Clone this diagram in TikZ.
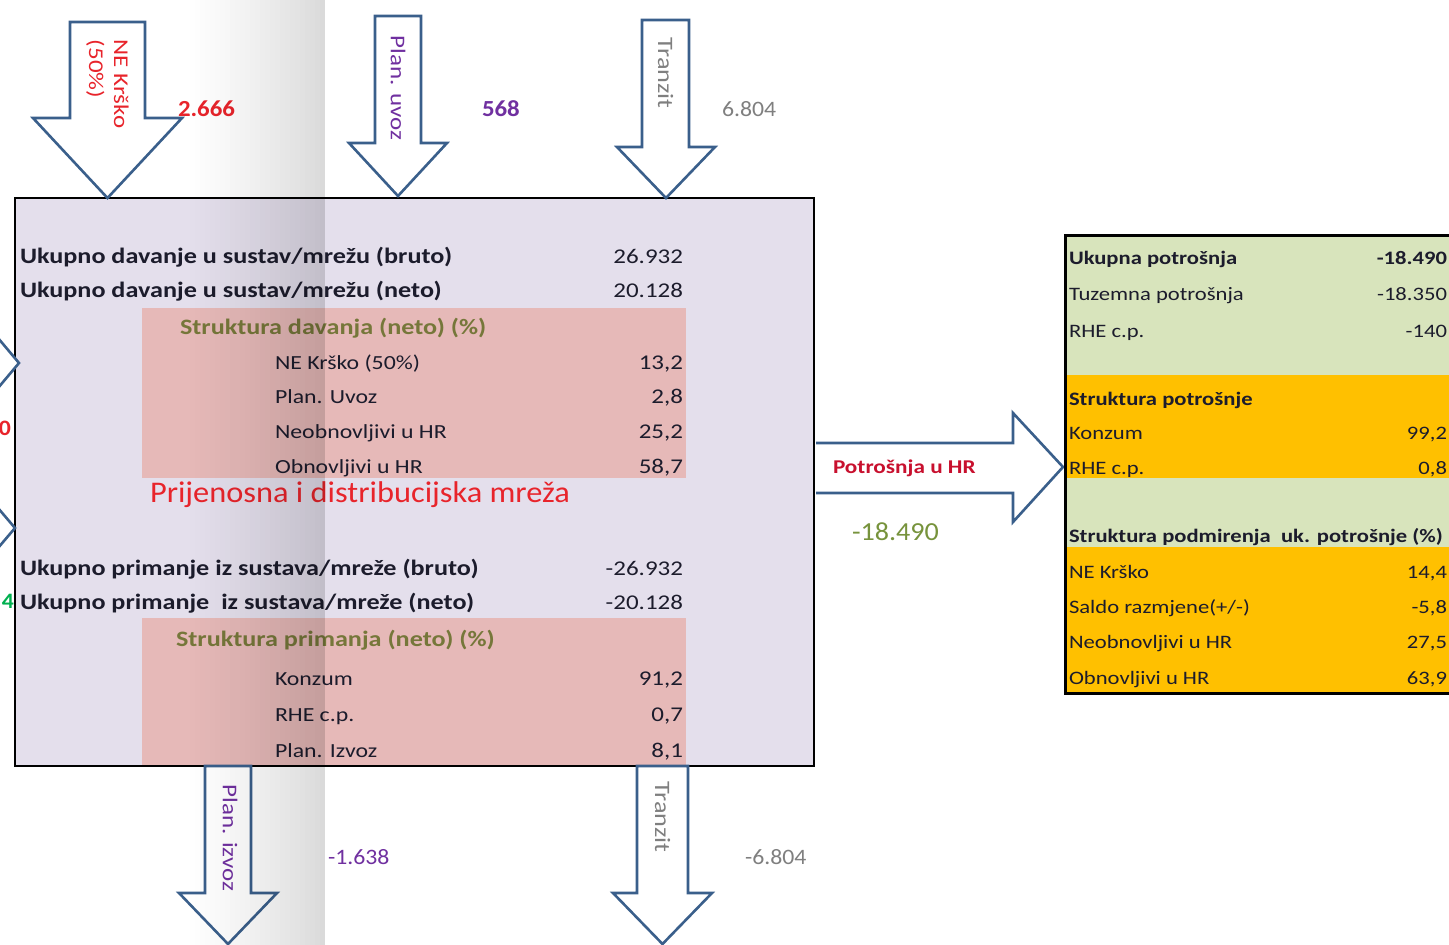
\documentclass[tikz,border=0pt]{standalone}
\usepackage{fontspec}
\setmainfont{Carlito}[FakeStretch=1.08]
\newfontfamily\wide{Carlito}[FakeStretch=1.19]
\definecolor{arrowblue}{HTML}{3A5F8B}
\definecolor{boxfill}{HTML}{E4DFEC}
\definecolor{pinkfill}{HTML}{E6B9B8}
\definecolor{olivetxt}{HTML}{76773A}
\definecolor{boxtext}{HTML}{1C1C2C}
\definecolor{redtxt}{HTML}{E8242B}
\definecolor{darkred}{HTML}{C8102E}
\definecolor{purpletxt}{HTML}{7030A0}
\definecolor{graytxt}{HTML}{7F7F7F}
\definecolor{greentxt}{HTML}{77933C}
\definecolor{brightgreen}{HTML}{00B050}
\definecolor{tgreen}{HTML}{D8E4BC}
\definecolor{torange}{HTML}{FFC000}
\tikzset{
  flowarrow/.style={draw=arrowblue, line width=2.6pt, fill=white, line join=miter},
  bt/.style={anchor=base west, font=\wide\fontsize{22}{26}\selectfont\bfseries, text=boxtext},
  rt/.style={anchor=base west, font=\wide\fontsize{20}{24}\selectfont, text=boxtext},
  val/.style={anchor=base east, font=\wide\fontsize{21}{25}\selectfont, text=boxtext},
  ot/.style={anchor=base west, font=\wide\fontsize{22}{25}\selectfont\bfseries, text=olivetxt},
  tb/.style={anchor=base west, font=\wide\fontsize{19}{23}\selectfont\bfseries, text=boxtext},
  tr/.style={anchor=base west, font=\wide\fontsize{19}{23}\selectfont, text=boxtext},
  tvb/.style={anchor=base east, font=\wide\fontsize{19}{23}\selectfont\bfseries, text=boxtext},
  tv/.style={anchor=base east, font=\wide\fontsize{19}{23}\selectfont, text=boxtext},
  rotlbl/.style={rotate=-90, font=\wide\fontsize{21}{25}\selectfont, align=left},
  numlbl/.style={anchor=base west, font=\fontsize{22}{26}\selectfont}
}
\begin{document}
\begin{tikzpicture}[x=1pt,y=-1pt, every node/.style={inner sep=0pt, outer sep=0pt}]
\useasboundingbox (0,0) rectangle (1449,945);
\clip (0,0) rectangle (1449,945);
\fill[white] (0,0) rectangle (1449,945);

% main box
\coordinate (boxNW) at (15,198);
\coordinate (boxSE) at (814,766);
\fill[boxfill] (boxNW) rectangle (boxSE);
\fill[pinkfill] (142,308) rectangle (686,478);
\fill[pinkfill] (142,618) rectangle (686,766);
\draw[line width=2.8pt] (boxNW) rectangle (boxSE);

% left partial arrows
\draw[flowarrow] (-2,338) -- (19,363) -- (-2,388);
\draw[flowarrow] (-2,508) -- (15,528) -- (-2,548);
\node[anchor=east, font=\fontsize{22}{26}\selectfont\bfseries, text=redtxt] (cut0) at (11,428) {0};
\node[anchor=east, font=\fontsize{22}{26}\selectfont\bfseries, text=brightgreen] (cut4) at (14,601) {4};

% top arrows
\draw[flowarrow] (70,22) -- (145,22) -- (145,118) -- (182,118) -- (107.5,198) -- (33,118) -- (70,118) -- cycle;
\draw[flowarrow] (375,16) -- (421,16) -- (421,143) -- (447,143) -- (398,196) -- (349,143) -- (375,143) -- cycle;
\draw[flowarrow] (642,20) -- (689,20) -- (689,147) -- (715,147) -- (666,198) -- (617,147) -- (642,147) -- cycle;

% bottom arrows
\draw[flowarrow] (205,766) -- (251,766) -- (251,893) -- (277,893) -- (228,944) -- (179,893) -- (205,893) -- cycle;
\draw[flowarrow] (637,766) -- (688,766) -- (688,893) -- (712,893) -- (662.5,944) -- (613,893) -- (637,893) -- cycle;

% right arrow
\draw[flowarrow] (816,443) -- (1013,443) -- (1013,413) -- (1063,467) -- (1013,522) -- (1013,493) -- (816,493);

% arrow labels
\node[rotlbl, text=redtxt] (lblNE) at (107.5,84) {NE Krško\\(50\%)};
\node[rotlbl, text=purpletxt] (lblPU) at (398,88) {Plan. uvoz};
\node[rotlbl, text=graytxt, font=\wide\fontsize{22}{25}\selectfont] (lblTR1) at (665.5,73) {Tranzit};
\node[rotlbl, text=purpletxt] (lblPI) at (230,838) {Plan. izvoz};
\node[rotlbl, text=graytxt, font=\wide\fontsize{22}{25}\selectfont] (lblTR2) at (662.5,817) {Tranzit};

\node[numlbl, text=redtxt, font=\fontsize{23}{26}\selectfont\bfseries] (n1) at (178,116) {2.666};
\node[numlbl, text=purpletxt, font=\fontsize{23}{26}\selectfont\bfseries] (n2) at (482,116) {568};
\node[numlbl, text=graytxt] (n3) at (722,116) {6.804};
\node[numlbl, text=purpletxt] (n4) at (328,864) {-1.638};
\node[numlbl, text=graytxt] (n5) at (745,864) {-6.804};

\node[anchor=base west, font=\wide\fontsize{19.5}{24}\selectfont\bfseries, text=darkred] (potr) at (833,473) {Potrošnja u HR};
\node[anchor=base west, font=\fontsize{26}{30}\selectfont, text=greentxt] (potrv) at (852,540) {-18.490};

% box texts
\node[bt] (r1) at (20,263) {Ukupno davanje u sustav/mrežu (bruto)};
\node[val] (v1) at (683,263) {26.932};
\node[bt] (r2) at (20,297) {Ukupno davanje u sustav/mrežu (neto)};
\node[val] (v2) at (683,297) {20.128};
\node[ot] (r3) at (180,334) {Struktura davanja (neto) (\%)};
\node[rt] (r4) at (275,369) {NE Krško (50\%)};
\node[val] (v4) at (683,369) {13,2};
\node[rt] (r5) at (275,403) {Plan. Uvoz};
\node[val] (v5) at (683,403) {2,8};
\node[rt] (r6) at (275,438) {Neobnovljivi u HR};
\node[val] (v6) at (683,438) {25,2};
\node[rt] (r7) at (275,473) {Obnovljivi u HR};
\node[val] (v7) at (683,473) {58,7};
\node[anchor=base west, font=\fontsize{30}{34}\selectfont, text=redtxt] (title) at (150,502) {Prijenosna i distribucijska mreža};

\node[bt] (p1) at (20,575) {Ukupno primanje iz sustava/mreže (bruto)};
\node[val] (pv1) at (683,575) {-26.932};
\node[bt] (p2) at (20,609) {Ukupno primanje\ \ iz sustava/mreže (neto)};
\node[val] (pv2) at (683,609) {-20.128};
\node[ot] (p3) at (176,646) {Struktura primanja (neto) (\%)};
\node[rt] (p4) at (275,685) {Konzum};
\node[val] (pv4) at (683,685) {91,2};
\node[rt] (p5) at (275,721) {RHE c.p.};
\node[val] (pv5) at (683,721) {0,7};
\node[rt] (p6) at (275,757) {Plan. Izvoz};
\node[val] (pv6) at (683,757) {8,1};

% right table
\fill[tgreen] (1065,235) rectangle (1460,375);
\fill[torange] (1065,375) rectangle (1460,478);
\fill[tgreen] (1065,478) rectangle (1460,547);
\fill[torange] (1065,547) rectangle (1460,693);
\draw[line width=3pt] (1065,235) rectangle (1460,693);

\node[tb] (t1) at (1069,264) {Ukupna potrošnja};
\node[tvb] (tv1) at (1447,264) {-18.490};
\node[tr] (t2) at (1069,300) {Tuzemna potrošnja};
\node[tv] (tv2) at (1447,300) {-18.350};
\node[tr] (t3) at (1069,337) {RHE c.p.};
\node[tv] (tv3) at (1447,337) {-140};
\node[tb] (t4) at (1069,405) {Struktura potrošnje};
\node[tr] (t5) at (1069,439) {Konzum};
\node[tv] (tv5) at (1447,439) {99,2};
\node[tr] (t6) at (1069,474) {RHE c.p.};
\node[tv] (tv6) at (1447,474) {0,8};
\node[tb] (t7) at (1069,542) {Struktura podmirenja\ \ uk. potrošnje (\%)};
\node[tr] (t8) at (1069,578) {NE Krško};
\node[tv] (tv8) at (1447,578) {14,4};
\node[tr] (t9) at (1069,613) {Saldo razmjene(+/-)};
\node[tv] (tv9) at (1447,613) {-5,8};
\node[tr] (t10) at (1069,648) {Neobnovljivi u HR};
\node[tv] (tv10) at (1447,648) {27,5};
\node[tr] (t11) at (1069,684) {Obnovljivi u HR};
\node[tv] (tv11) at (1447,684) {63,9};

% gray gradient strip
\foreach \i [evaluate=\i as \op using 0.15*(\i/29)^1.3, evaluate=\i as \xx using 180+\i*5] in {0,...,28}
  \fill[black, opacity=\op] (\xx,0) rectangle (\xx+5,945);
\end{tikzpicture}
\end{document}
